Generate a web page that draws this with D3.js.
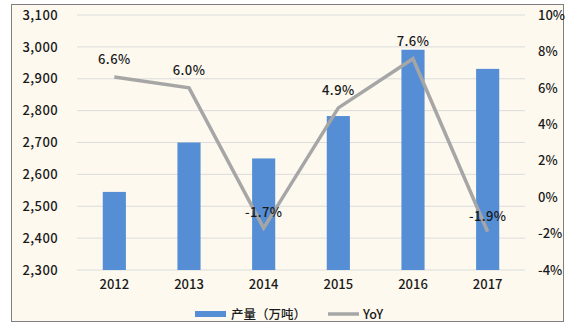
<!DOCTYPE html>
<html><head><meta charset="utf-8">
<script src="https://cdn.jsdelivr.net/npm/d3@7"></script>
<style>
html,body{margin:0;padding:0;background:#fff;}
svg{display:block;}
</style></head>
<body>
<svg id="c" width="572" height="327"></svg>
<script>
const years = ["2012","2013","2014","2015","2016","2017"];
const output = [2545, 2700, 2650, 2783, 2991, 2931];
const yoy = [6.6, 6.0, -1.7, 4.9, 7.6, -1.9];
const leftTicks = [2300,2400,2500,2600,2700,2800,2900,3000,3100];
const rightTicks = [-4,-2,0,2,4,6,8,10];
const legendLabels = ["产量（万吨）","YoY"];

const svg = d3.select("#c");
const font = "'Noto Sans CJK SC', 'Noto Sans', sans-serif";
svg.append("rect").attr("x",11.5).attr("y",4.5).attr("width",552).attr("height",317)
  .attr("fill","#fdf9ef").attr("stroke","#7f7f7f").attr("stroke-width",1);

const x = d3.scaleBand().domain(years).range([77,525]).paddingInner(0.69).paddingOuter(0.345);
const y = d3.scaleLinear().domain([2300,3100]).range([270,15]);
const y2 = d3.scaleLinear().domain([-4,10]).range([270,15]);

// gridlines
svg.append("g").selectAll("line").data(leftTicks).join("line")
  .attr("x1",77).attr("x2",525).attr("y1",d=>y(d)).attr("y2",d=>y(d))
  .attr("stroke","#dcdcdc").attr("stroke-width",1);

const styleText = sel => sel.attr("font-family",font).attr("font-size",13).attr("font-weight",500).attr("fill","#1a1a1a");

// left axis
const la = svg.append("g").attr("transform","translate(77,0)")
  .call(d3.axisLeft(y).tickValues(leftTicks).tickSize(0).tickPadding(19).tickFormat(d3.format(",")));
la.select(".domain").remove();
styleText(la.selectAll("text")).attr("letter-spacing",0.4);

// right axis
const ra = svg.append("g").attr("transform","translate(525,0)")
  .call(d3.axisRight(y2).tickValues(rightTicks).tickSize(0).tickPadding(13).tickFormat(d=>d+"%"));
ra.select(".domain").remove();
styleText(ra.selectAll("text"));

// bottom axis
const ba = svg.append("g").attr("transform","translate(0,270)")
  .call(d3.axisBottom(x).tickSize(0).tickPadding(10));
ba.select(".domain").remove();
styleText(ba.selectAll("text"));

// bars
svg.append("g").selectAll("rect").data(output).join("rect")
  .attr("x",(d,i)=>x(years[i])).attr("width",x.bandwidth())
  .attr("y",d=>y(d)).attr("height",d=>270-y(d))
  .attr("fill","#558ed5");

// line
const cx = (i)=>x(years[i])+x.bandwidth()/2;
svg.append("path").datum(yoy)
  .attr("d",d3.line().x((d,i)=>cx(i)).y(d=>y2(d)))
  .attr("fill","none").attr("stroke","#a6a6a6").attr("stroke-width",3.5);

// labels
styleText(svg.append("g").selectAll("text").data(yoy).join("text")
  .attr("x",(d,i)=>cx(i)).attr("y",d=> d>=0 ? y2(d)-13 : y2(d)-11)
  .attr("text-anchor","middle"))
  .attr("letter-spacing",0.4)
  .text(d=>d.toFixed(1)+"%");

// legend
const lg = svg.append("g");
lg.append("rect").attr("x",195).attr("y",311).attr("width",31).attr("height",6).attr("fill","#558ed5");
styleText(lg.append("text").attr("x",231).attr("y",319)).attr("font-size",12.5).text(legendLabels[0]);
lg.append("line").attr("x1",328).attr("x2",359).attr("y1",314).attr("y2",314).attr("stroke","#a6a6a6").attr("stroke-width",3.5);
styleText(lg.append("text").attr("x",363).attr("y",319)).attr("font-size",12.5).text(legendLabels[1]);
</script>
</body></html>
